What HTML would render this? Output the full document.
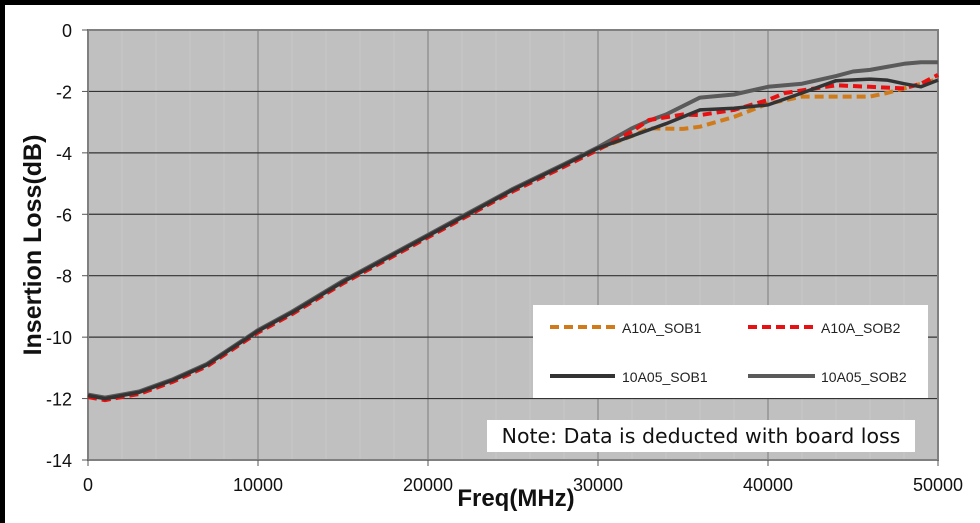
<!DOCTYPE html>
<html><head><meta charset="utf-8"><style>
body{margin:0;background:#fff;}
svg{display:block;font-family:"Liberation Sans",Arial,sans-serif;}
</style></head><body>
<svg id="s" width="980" height="523" xmlns="http://www.w3.org/2000/svg">
<rect x="0" y="0" width="980" height="523" fill="#fff"/>
<rect x="0" y="0" width="980" height="5" fill="#000"/>
<rect x="0" y="0" width="5" height="523" fill="#000"/>
<rect x="88" y="30" width="850" height="430" fill="#c0c0c0"/>
<g id="grid"></g>
<rect x="88" y="30" width="850" height="430" fill="none" stroke="#808080" stroke-width="2"/>
<g id="lines" fill="none" stroke-linejoin="round" stroke-linecap="butt"></g>
<rect x="533" y="305" width="395" height="93" fill="#fff"/>
<line x1="550" y1="327" x2="617" y2="327" stroke="#d07a1a" stroke-width="4" stroke-dasharray="9,5"/>
<text x="622" y="333" font-size="14" fill="#222">A10A_SOB1</text>
<line x1="748" y1="327" x2="815" y2="327" stroke="#e81010" stroke-width="4" stroke-dasharray="9,5"/>
<text x="821" y="333" font-size="14" fill="#222">A10A_SOB2</text>
<line x1="550" y1="376" x2="615" y2="376" stroke="#333" stroke-width="4"/>
<text x="622" y="382" font-size="14" fill="#222">10A05_SOB1</text>
<line x1="748" y1="376" x2="815" y2="376" stroke="#5a5a5a" stroke-width="4"/>
<text x="821" y="382" font-size="14" fill="#222">10A05_SOB2</text>
<rect x="487" y="420" width="428" height="32" fill="#fff"/>
<text x="701" y="443" font-size="20.5" fill="#111" text-anchor="middle" font-family="'DejaVu Sans',sans-serif">Note: Data is deducted with board loss</text>
<g id="ticks" font-size="18" fill="#111"></g>
<text transform="translate(41,245) rotate(-90)" font-size="25" font-weight="bold" text-anchor="middle" fill="#111">Insertion Loss(dB)</text>
<text x="516" y="506" font-size="24" font-weight="bold" text-anchor="middle" fill="#111">Freq(MHz)</text>
</svg>
<script>
var NS="http://www.w3.org/2000/svg";
function X(f){return 88+f*0.017;} function Y(d){return 30-d*30.714;}
function el(p,t,a,txt){var e=document.createElementNS(NS,t);for(var k in a)e.setAttribute(k,a[k]);if(txt!=null)e.textContent=txt;document.getElementById(p).appendChild(e);return e;}
for(var f=2000;f<50000;f+=2000){if(f%10000)el("grid","line",{x1:X(f),x2:X(f),y1:30,y2:460,stroke:"#c8c8c8","stroke-width":1});}
for(var f=10000;f<50000;f+=10000)el("grid","line",{x1:X(f),x2:X(f),y1:30,y2:460,stroke:"#888","stroke-width":1.2});
for(var d=-2;d>-14;d-=2)el("grid","line",{x1:88,x2:938,y1:Y(d),y2:Y(d),stroke:"#333","stroke-width":1.2});
for(var d=0;d>=-14;d-=2){el("ticks","line",{x1:82,x2:88,y1:Y(d),y2:Y(d),stroke:"#555"});el("ticks","text",{x:72,y:Y(d)+7,"text-anchor":"end"},String(d));}
for(var f=0;f<=50000;f+=10000){el("ticks","line",{x1:X(f),x2:X(f),y1:460,y2:466,stroke:"#555"});el("ticks","text",{x:X(f),y:491,"text-anchor":"middle"},String(f));}
var base=[[0,-11.9],[1000,-12.0],[2000,-11.9],[3000,-11.8],[5000,-11.4],[7000,-10.9],[10000,-9.8],[12000,-9.2],[15000,-8.2],[20000,-6.7],[22000,-6.1],[25000,-5.2],[28000,-4.4],[30000,-3.85]];
function P(tail,off){var pts=base.map(function(p){return [p[0],p[1]+(off||0)];}).concat(tail);return pts.map(function(p){return X(p[0]).toFixed(1)+","+Y(p[1]).toFixed(1);}).join(" ");}
var s1=P([[32000,-3.45],[34000,-3.05],[36000,-2.6],[38000,-2.55],[40000,-2.44],[42000,-2.05],[44000,-1.65],[46000,-1.6],[47000,-1.63],[48000,-1.75],[49000,-1.85],[50000,-1.63]]);
var s2=P([[32000,-3.2],[33000,-2.95],[34000,-2.75],[36000,-2.2],[38000,-2.1],[40000,-1.85],[42000,-1.75],[44000,-1.5],[45000,-1.35],[46000,-1.3],[48000,-1.1],[49000,-1.05],[50000,-1.05]],0.03);
var r=P([[32000,-3.3],[33000,-2.93],[35000,-2.75],[36000,-2.77],[38000,-2.6],[40000,-2.28],[41000,-2.05],[44000,-1.8],[46000,-1.85],[48000,-1.9],[49000,-1.75],[50000,-1.46]],-0.05);
var o=P([[32000,-3.45],[33000,-3.2],[35000,-3.22],[36000,-3.15],[38000,-2.83],[40000,-2.4],[42000,-2.17],[46000,-2.17],[47000,-2.05],[48000,-1.9],[50000,-1.6]],-0.02);
el("lines","polyline",{points:s2,stroke:"#5a5a5a","stroke-width":4});
el("lines","polyline",{points:o,stroke:"#d07a1a","stroke-width":4,"stroke-dasharray":"9,5"});
el("lines","polyline",{points:r,stroke:"#e81010","stroke-width":4,"stroke-dasharray":"9,5"});
el("lines","polyline",{points:s1,stroke:"#333","stroke-width":3.5});
</script>
</body></html>
